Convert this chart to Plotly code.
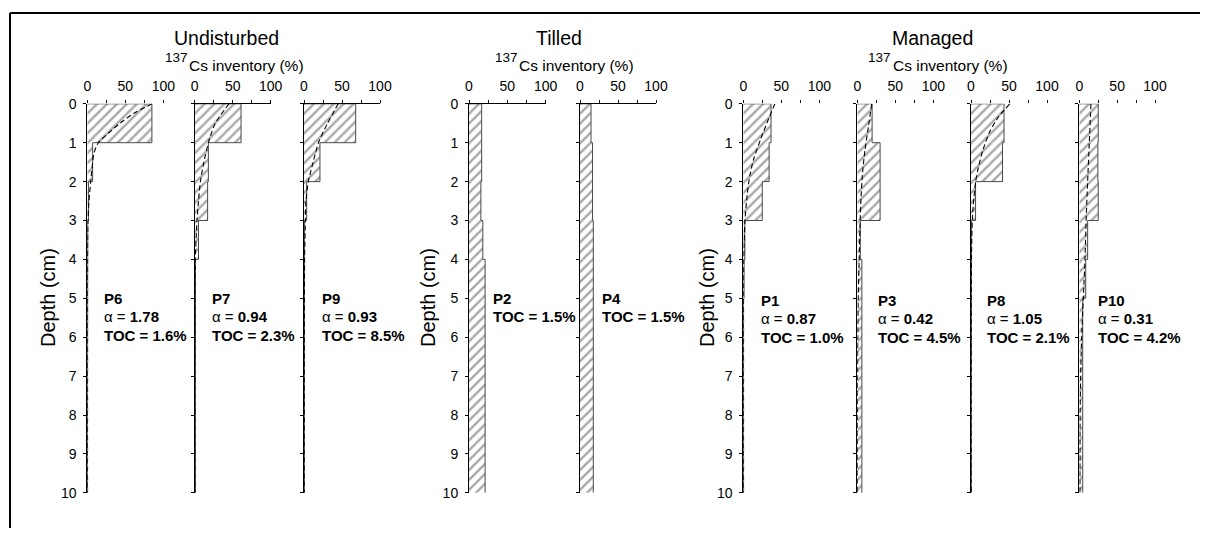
import plotly.graph_objects as go

# page is 1208x536; the body keeps its default 8px margin, so the figure is sized to fit exactly
PAGE_W, PAGE_H = 1208, 536
OFF = 8
W, H = PAGE_W - 2 * OFF, PAGE_H - 2 * OFF

# ---------------- data ----------------
depth_mid = [0.5, 1.5, 2.5, 3.5, 4.5, 5.5, 6.5, 7.5, 8.5, 9.5]

p6_inventory = [85, 7, 1.5, 0.5, 0.5, 0.3, 0.3, 0.2, 0.2, 0.2]
p7_inventory = [61, 18, 17, 5, 1, 1, 1, 1, 1, 1]
p9_inventory = [68, 21, 3.5, 0.5, 0.5, 0.3, 0.3, 0.3, 0.3, 0.3]
p2_inventory = [16.5, 16.5, 15.5, 18, 21, 21, 21, 21, 21, 21]
p4_inventory = [14.5, 16.5, 16.5, 17.5, 17.5, 17.5, 17.5, 17.5, 17.5, 17.5]
p1_inventory = [36.5, 34, 25, 2, 1, 0.3, 0.3, 0.3, 0.3, 0.3]
p3_inventory = [19.5, 30, 30, 4, 6, 6, 6, 6, 6, 6]
p8_inventory = [43.5, 41.5, 6, 0.5, 0.5, 0.3, 0.3, 0.3, 0.3, 0.3]
p10_inventory = [25, 24.5, 25, 11, 8.5, 4.5, 4.5, 4.5, 4.5, 4.5]

p6_fit_depth = [0, 0.25, 0.5, 0.75, 1, 1.25, 1.5, 2, 2.5, 3, 4, 5, 6, 7, 8, 9, 10]
p6_fit_value = [85, 61, 43, 28, 14.5, 9, 7, 4.5, 2.2, 0.9, 0.3, 0.2, 0.1, 0.1, 0.1, 0.1, 0.1]
p7_fit_depth = [0, 0.5, 1, 1.5, 2, 2.5, 3, 4, 5, 6, 7, 8, 9, 10]
p7_fit_value = [45, 27, 18, 12, 7.5, 5, 3, 0.8, 0.3, 0.2, 0.1, 0.1, 0.1, 0.1]
p9_fit_depth = [0, 0.5, 1, 1.5, 2, 2.5, 3, 4, 5, 6, 7, 8, 9, 10]
p9_fit_value = [45, 31, 19, 12, 5.7, 2.5, 1.8, 0.8, 0.5, 0.4, 0.3, 0.3, 0.2, 0.2]
p1_fit_depth = [0, 0.45, 0.9, 1.4, 1.85, 2.35, 3, 4, 5, 6, 7, 8, 9, 10]
p1_fit_value = [41.5, 32, 23, 14, 8.5, 5, 2.2, 0.5, 0.2, 0.1, 0.1, 0.1, 0.1, 0.1]
p3_fit_depth = [0, 0.6, 1.2, 1.75, 2.4, 3.1, 4, 5, 6, 7, 8, 9, 10]
p3_fit_value = [19, 14.5, 10, 7, 4.9, 3.6, 2.5, 1.2, 0.6, 0.3, 0.2, 0.1, 0.1]
p8_fit_depth = [0, 0.34, 0.7, 1.17, 1.64, 2, 2.6, 3, 4, 5, 6, 7, 8, 9, 10]
p8_fit_value = [51, 36, 25, 16, 9.6, 6.1, 3, 1.7, 0.6, 0.3, 0.2, 0.1, 0.1, 0.1, 0.1]
p10_fit_depth = [0, 1, 2, 3, 4, 5, 6, 7, 8, 9, 10]
p10_fit_value = [15.4, 13.2, 11, 9, 7.5, 5.3, 3.1, 1.8, 1, 0.9, 0.8]

profile_names = ["P6", "P7", "P9", "P2", "P4", "P1", "P3", "P8", "P10"]
alpha_labels = ["1.78", "0.94", "0.93", None, None, "0.87", "0.42", "1.05", "0.31"]
toc_labels = ["1.6%", "2.3%", "8.5%", "1.5%", "1.5%", "1.0%", "4.5%", "2.1%", "4.2%"]
group_titles = ["Undisturbed", "Tilled", "Managed"]
x_tick_vals = [0, 50, 100]
x_minor_vals = [25, 75]
depth_ticks = [0, 1, 2, 3, 4, 5, 6, 7, 8, 9, 10]

inventories = [p6_inventory, p7_inventory, p9_inventory, p2_inventory, p4_inventory,
               p1_inventory, p3_inventory, p8_inventory, p10_inventory]
fits = [(p6_fit_depth, p6_fit_value), (p7_fit_depth, p7_fit_value), (p9_fit_depth, p9_fit_value),
        None, None,
        (p1_fit_depth, p1_fit_value), (p3_fit_depth, p3_fit_value),
        (p8_fit_depth, p8_fit_value), (p10_fit_depth, p10_fit_value)]

# ---------------- layout (reference pixel positions) ----------------
panel_x = [(87.3, 163.3), (194.7, 270.7), (304, 380), (469, 545.7), (580, 656),
           (743.3, 819.3), (857.3, 933.3), (971, 1047), (1079.3, 1155)]
show_top_line = [False, True, True, True, True, False, False, False, False]
show_ylabels = [True, False, False, True, False, True, False, False, False]
y_top_px, y_bot_px = 103.8, 492.8
label_x = [102, 210, 320, 490.7, 600, 759.3, 876, 985, 1096]

FONT = "Liberation Sans, Arial, sans-serif"


def px(x):
    return (x - OFF) / W


def py(y):
    return 1 - (y - OFF) / H


fig = go.Figure()
layout = dict(
    template="none",
    width=W, height=H, margin=dict(l=0, r=0, t=0, b=0, pad=0), autosize=False,
    paper_bgcolor="white", plot_bgcolor="rgba(0,0,0,0)",
    showlegend=False, font=dict(family=FONT, color="black"),
)

for i, name in enumerate(profile_names):
    k = i + 1
    xa = "x" if k == 1 else f"x{k}"
    ya = "y" if k == 1 else f"y{k}"
    inv = inventories[i]
    fig.add_trace(go.Bar(
        x=inv, y=depth_mid, orientation="h", width=1,
        marker=dict(color="white", line=dict(width=0),
                    pattern=dict(shape="/", fgcolor="#a8a8a8", bgcolor="white",
                                 size=7, solidity=0.33)),
        xaxis=xa, yaxis=ya, hoverinfo="skip"))
    sx, sy = [0], [0]
    for d, v in enumerate(inv):
        sx += [v, v]
        sy += [d, d + 1]
    fig.add_trace(go.Scatter(x=sx, y=sy, mode="lines",
                             line=dict(color="#4a4a4a", width=1),
                             xaxis=xa, yaxis=ya, hoverinfo="skip"))
    if fits[i] is not None:
        fd, fv = fits[i]
        fig.add_trace(go.Scatter(x=fv, y=fd, mode="lines",
                                 line=dict(color="black", width=1.1, dash="5px,3px",
                                           shape="spline", smoothing=0.6),
                                 xaxis=xa, yaxis=ya, hoverinfo="skip"))
    x0, x1 = panel_x[i]
    layout["xaxis" if k == 1 else f"xaxis{k}"] = dict(
        domain=[px(x0), px(x1)], range=[0, 100], side="top", anchor=ya,
        tickvals=x_tick_vals, ticks="outside", ticklen=3,
        tickcolor="black", tickwidth=1, showline=show_top_line[i], linecolor="black",
        linewidth=1, showgrid=False, zeroline=False, automargin=False,
        minor=dict(tickvals=x_minor_vals, ticks="outside", ticklen=3, tickcolor="black",
                   tickwidth=1, showgrid=False),
        tickfont=dict(size=14, family=FONT, color="black"), ticklabelstandoff=3,
        fixedrange=True)
    layout["yaxis" if k == 1 else f"yaxis{k}"] = dict(
        domain=[py(y_bot_px), py(y_top_px)], range=[10, 0], anchor=xa,
        tickvals=depth_ticks, ticks="outside", ticklen=3, tickcolor="black",
        tickwidth=1, showline=True, linecolor="black", linewidth=1,
        showgrid=False, zeroline=False, showticklabels=show_ylabels[i], automargin=False,
        tickfont=dict(size=14, family=FONT, color="black"), ticklabelstandoff=4,
        fixedrange=True)

annotations = []
for title, cx, cs_left in zip(group_titles, [226, 559, 933], [188, 518.3, 891.7]):
    annotations.append(dict(x=px(cx), y=py(38), xref="paper", yref="paper",
                            text=title, showarrow=False, xanchor="center", yanchor="middle",
                            font=dict(size=19.5, family=FONT, color="black")))
    annotations.append(dict(x=px(cs_left - 1), y=py(65), xref="paper", yref="paper",
                            text="Cs inventory (%)", showarrow=False,
                            xanchor="left", yanchor="middle",
                            font=dict(size=15.5, family=FONT, color="black")))
    annotations.append(dict(x=px(cs_left + 1.5), y=py(58), xref="paper", yref="paper",
                            text="137", showarrow=False,
                            xanchor="right", yanchor="middle",
                            font=dict(size=13.5, family=FONT, color="black")))
for dx in [48, 428, 707]:
    annotations.append(dict(x=px(dx), y=py(298), xref="paper", yref="paper",
                            text="Depth (cm)", textangle=-90, showarrow=False,
                            xanchor="center", yanchor="middle",
                            font=dict(size=20, family=FONT, color="black")))
for i, name in enumerate(profile_names):
    base = 298 if i < 5 else 300
    lines = [f"<b>{name}</b>"]
    if alpha_labels[i] is not None:
        lines.append(f"α = <b>{alpha_labels[i]}</b>")
    lines.append(f"<b>TOC = {toc_labels[i]}</b>")
    step = 18.7
    for j, t in enumerate(lines):
        annotations.append(dict(x=px(label_x[i]), y=py(base + j * step), xref="paper", yref="paper",
                                text=t, showarrow=False, xanchor="left", yanchor="middle",
                                font=dict(size=15, family=FONT, color="black")))
layout["annotations"] = annotations

layout["shapes"] = [
    dict(type="line", xref="paper", yref="paper", x0=px(10), x1=1.0, y0=py(13), y1=py(13),
         line=dict(color="black", width=2)),
    dict(type="line", xref="paper", yref="paper", x0=px(10), x1=px(10), y0=py(13), y1=0.0,
         line=dict(color="black", width=2)),
]

fig.update_layout(**layout)
fig.write_html("out.html")
